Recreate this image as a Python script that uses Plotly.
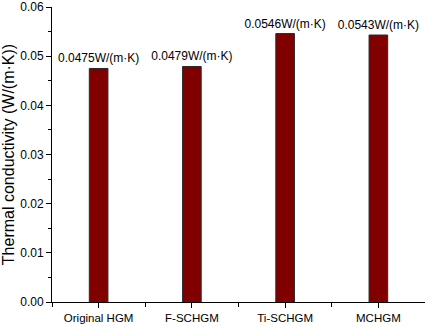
import plotly.graph_objects as go

categories = ["Original HGM", "F-SCHGM", "Ti-SCHGM", "MCHGM"]
values = [0.0475, 0.0479, 0.0546, 0.0543]
labels = ["0.0475W/(m·K)", "0.0479W/(m·K)", "0.0546W/(m·K)", "0.0543W/(m·K)"]

fig = go.Figure(go.Bar(
    x=categories, y=values, text=labels, textposition="outside",
    constraintext="none",
    textfont=dict(family="Liberation Sans, Arial", size=12, color="black"),
    marker=dict(color="#800000", line=dict(color="#2a2a2a", width=1)),
    width=0.2, cliponaxis=False,
))

fig.update_layout(
    width=425, height=327,
    margin=dict(l=52, r=0, t=7, b=25),
    paper_bgcolor="white", plot_bgcolor="white",
    showlegend=False,
    font=dict(family="Liberation Sans, Arial", size=11, color="black"),
    uniformtext=dict(mode=False),
)
fig.update_xaxes(
    range=[-0.5, 3.5], showline=True, linecolor="black", linewidth=1,
    ticks="outside", ticklen=5, tickcolor="black",
    minor=dict(ticks="outside", ticklen=4, tickcolor="black", tickvals=[-0.5, 0.5, 1.5, 2.5, 3.5]),
    tickfont=dict(size=11.5), showgrid=False,
)
fig.update_yaxes(
    range=[0, 0.06], dtick=0.01, tickformat=".2f",
    showline=True, linecolor="black", linewidth=1,
    ticks="outside", ticklen=5, tickcolor="black",
    minor=dict(ticks="outside", ticklen=3, tickcolor="black", dtick=0.005),
    showgrid=False, zeroline=False,
    tickfont=dict(size=12),
    title=dict(text="Thermal conductivity (W/(m·K))", font=dict(size=16), standoff=4),
)

fig.write_html("out.html")
